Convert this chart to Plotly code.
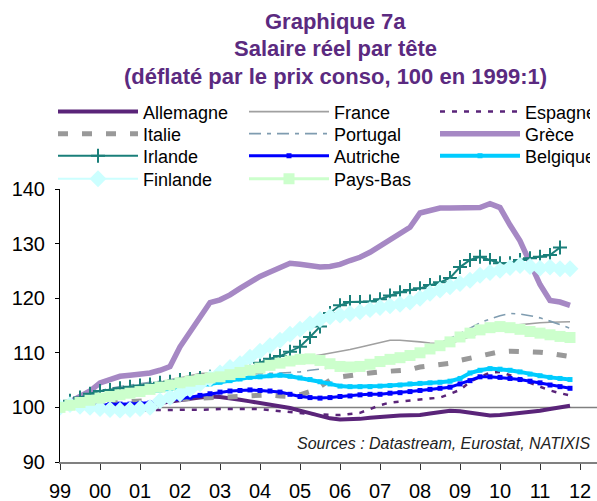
import plotly.graph_objects as go

# quarterly periods 1999Q1 .. 2011Q4
periods = [f"{y}Q{q}" for y in range(1999, 2012) for q in range(1, 5)]

allemagne = [100, 100.1, 100.1, 100.2, 100.2, 100.2, 100.2, 100.3, 100.4, 100.5, 100.8, 101.1,
             101.4, 101.6, 101.8, 102, 101.9, 101.7, 101.4, 101.1, 100.8, 100.5, 100.2, 99.9,
             99.4, 98.9, 98.4, 98, 97.8, 97.8, 97.9, 98.1, 98.3, 98.4, 98.5, 98.5,
             98.6, 98.9, 99.2, 99.4, 99.3, 99, 98.7, 98.5, 98.6, 98.8, 98.9, 99.1,
             99.4, 99.7, 100, 100.3]
france = [100, 100.6, 101.2, 101.8, 102.2, 102.6, 103, 103.4, 103.8, 104.2, 104.6, 105,
          105.4, 105.8, 106.2, 106.3, 106.3, 106.5, 106.8, 107.1, 107.4, 107.8, 108.2, 108.6,
          109, 109.3, 109.6, 109.9, 110.2, 110.6, 111, 111.4, 111.9, 112.3, 112.3, 112.2,
          112, 111.8, 111.7, 111.7, 112.3, 113, 113.7, 114.3, 114.8, 115, 115.2, 115.4,
          115.5, 115.6, 115.7, 115.7]
espagne = [100, 100.2, 100.2, 100.1, 100, 99.8, 99.6, 99.5, 99.5, 99.5, 99.5, 99.5,
           99.5, 99.6, 99.6, 99.6, 99.7, 99.7, 99.7, 99.7, 99.7, 99.5, 99.3, 99.1,
           98.9, 98.8, 98.7, 98.6, 98.6, 98.8, 99, 99.7, 100.4, 100.9, 101.1, 101.3,
           101.4, 101.6, 101.8, 102.5, 103.2, 104.7, 105.6, 106.4, 106.5, 105.9, 105.3, 104.5,
           103.8, 103.1, 102.6, 102.2]
italie = [100, 100.3, 100.5, 100.7, 100.8, 100.9, 101, 101.1, 101.2, 101.3, 101.4, 101.5,
          101.6, 101.6, 101.7, 101.8, 101.9, 101.9, 102, 102.2, 102.3, 102.3, 102.1, 102,
          102.3, 102.9, 103.8, 105, 105.6, 105.9, 106.1, 106.3, 106.5, 106.6, 106.6, 106.9,
          107.4, 107.6, 107.8, 108.1, 108.6, 109, 109.5, 110, 110.2, 110.3, 110.3, 110.2,
          110.1, 109.9, 109.6, 109.3]
portugal = [100, 101, 102, 102.6, 103.1, 103.5, 103.8, 104.1, 104.4, 104.6, 104.8, 105,
            105.3, 105.6, 105.8, 105.9, 106, 106, 106.1, 106.1, 106.2, 106.2, 106.3, 106.4,
            106.5, 106.8, 107, 107.2, 107.4, 107.6, 107.8, 108.1, 108.4, 108.8, 109.3, 109.8,
            110.4, 111.1, 111.8, 112.6, 113.5, 114.5, 115.5, 116.2, 116.8, 117.2, 117.1, 116.8,
            116.4, 115.8, 115.2, 114.5]
grece = [100, 101, 102, 103, 104.5, 105.2, 105.7, 105.9, 106, 106.3, 106.8, 107.5,
         111.1, 113.9, 116.6, 119.2, 119.7, 120.6, 121.8, 123, 124, 124.8, 125.5, 126.4,
         126.2, 125.9, 125.7, 125.8, 126.2, 126.9, 127.5, 128.4, 129.5, 130.6, 131.8, 133,
         135.6, 136, 136.5, 136.5, 136.5, 136.5, 136.6, 137.3, 136.6, 133.4, 130.5, 126.5,
         122.5, 119.6, 119.3, 118.7]
irlande = [100, 101.2, 101.8, 102.5, 103, 103.2, 103.5, 103.8, 104, 104.2, 104.5, 104.7,
           105, 105.2, 105.4, 105.6, 105.7, 106, 106.5, 107.2, 108.2, 108.9, 109.4, 110.2,
           111.1, 112.9, 114.8, 117.3, 118.7, 119.3, 119.3, 119.4, 119.8, 120.5, 121.1, 121.5,
           121.8, 122.4, 122.9, 123.7, 125.7, 127, 127.6, 127, 126.4, 126.4, 127, 127.3,
           127.6, 127.9, 129.3, None]
autriche = [100, 100.2, 100.3, 100.4, 100.5, 100.5, 100.6, 100.6, 100.7, 100.8, 101, 101.3,
            101.6, 101.9, 102.2, 102.5, 102.8, 103, 103.1, 103.2, 103.1, 103, 102.8, 102.4,
            102, 101.8, 101.7, 101.8, 102, 102.1, 102.3, 102.4, 102.4, 102.6, 102.7, 102.9,
            103.1, 103.3, 103.5, 103.7, 104.3, 104.9, 105.6, 105.6, 105.5, 105.3, 105.1, 104.8,
            104.5, 104.1, 103.8, 103.5]
belgique = [100, 100.4, 100.8, 101.1, 101.5, 101.8, 102.1, 102.4, 102.7, 103, 103.2, 103.4,
            103.6, 103.8, 104, 104.3, 104.6, 104.9, 105.2, 105.5, 105.6, 105.8, 105.9, 105.7,
            105.4, 105.1, 104.7, 104.3, 103.9, 103.8, 103.8, 103.8, 103.9, 104, 104.1, 104.3,
            104.4, 104.5, 104.6, 104.8, 105.3, 106.3, 106.8, 107.1, 107, 106.8, 106.5, 106.1,
            105.8, 105.5, 105.3, 105.1]
finlande = [100, 100.5, 100.2, 100, 99.8, 99.6, 99.5, 99.6, 99.8, 100, 101.2, 101.8,
            102.5, 103.3, 104.3, 105.3, 106.3, 107.3, 108, 109.2, 110.3, 111.3, 112.3, 113.4,
            114.3, 115.3, 116.1, 116.6, 116.9, 117.2, 117.5, 117.9, 118.3, 118.6, 118.9, 119.3,
            120, 120.9, 121.5, 122.1, 122.7, 123.3, 124.2, 124.7, 125.1, 125.6, 126, 125.8,
            125.5, 125.7, 125.4, 125.4]
pays_bas = [100, 100.4, 100.9, 101.3, 101.7, 102, 102.3, 102.6, 102.9, 103.3, 103.7, 104.1,
            104.5, 104.8, 105.1, 105.4, 105.6, 106, 106.4, 106.8, 107.2, 107.7, 108.1, 108.5,
            108.8, 108.9, 108.6, 108, 107.5, 107.4, 107.5, 107.9, 108.4, 108.8, 109.1, 109.5,
            110, 110.7, 111.3, 112, 112.9, 113.6, 114.2, 114.6, 114.8, 114.6, 114.3, 113.9,
            113.6, 113.3, 113, 112.8]

year_ticks = list(range(1999, 2013))
year_labels = ["99", "00", "01", "02", "03", "04", "05", "06", "07", "08", "09", "10", "11", "12"]

x = [int(p[:4]) + (int(p[-1]) - 1) / 4 for p in periods]

FONT = "Arial, Liberation Sans, sans-serif"
PURPLE = "#5a2479"

# (name, values, line style, marker style, legend row, legend column)
series = [
    ("Allemagne", allemagne, dict(color=PURPLE, width=4), None, "legend", 0),
    ("France", france, dict(color="#a0a0a0", width=1.6), None, "legend", 1),
    ("Espagne", espagne, dict(color=PURPLE, width=2.5, dash="5px,7px"), None, "legend", 2),
    ("Italie", italie, dict(color="#999999", width=5, dash="10px,14px"), None, "legend2", 0),
    ("Portugal", portugal, dict(color="#7f9cb0", width=1.6, dash="12px,6px,4px,6px"), None, "legend2", 1),
    ("Grèce", grece, dict(color="#a688c4", width=5.5), None, "legend2", 2),
    ("Irlande", irlande, dict(color="#1a7f7a", width=2),
     dict(symbol="cross-thin", size=10, line=dict(color="#1a7f7a", width=2)), "legend3", 0),
    ("Autriche", autriche, dict(color="#0000ff", width=3),
     dict(symbol="square", size=5, color="#0000ff"), "legend3", 1),
    ("Belgique", belgique, dict(color="#00ccff", width=4),
     dict(symbol="square", size=5, color="#00ccff"), "legend3", 2),
    ("Finlande", finlande, dict(color="#ccffff", width=2),
     dict(symbol="diamond", size=13, color="#ccffff"), "legend4", 0),
    ("Pays-Bas", pays_bas, dict(color="#ccffcc", width=3),
     dict(symbol="square", size=11, color="#ccffcc"), "legend4", 1),
]

fig = go.Figure()
for name, vals, line, marker, leg, col in series:
    fig.add_trace(go.Scatter(
        x=x, y=vals, name=name, mode="lines+markers" if marker else "lines",
        line=line, marker=marker, legend=leg, connectgaps=False,
        legendwidth=96 if col < 2 else 60,
    ))

W, H = 597, 501
plot_top, plot_bot = 189, 461.7
ph = plot_bot - plot_top


def py(p):  # paper y from pixel
    return (plot_bot - p) / ph


def px_(p):  # paper x from pixel
    return (p - 60) / 537


leg_common = dict(orientation="h", xanchor="left", yanchor="middle",
                  font=dict(family=FONT, size=18, color="#000"),
                  bgcolor="rgba(0,0,0,0)", itemwidth=80,
                  itemclick=False, traceorder="normal")

TITLE_FONT = dict(family=FONT, size=22, color="#5b2a80")

fig.update_layout(
    width=W, height=H,
    margin=dict(l=60, r=0, t=plot_top, b=H - plot_bot, autoexpand=False),
    paper_bgcolor="white", plot_bgcolor="white",
    font=dict(family=FONT, color="#000"),
    showlegend=True,
    legend=dict(**leg_common, x=px_(53), y=py(112)),
    legend2=dict(**leg_common, x=px_(53), y=py(134)),
    legend3=dict(**leg_common, x=px_(53), y=py(156)),
    legend4=dict(**leg_common, x=px_(53), y=py(179)),
    xaxis=dict(range=[1999, 1999 + 537 / 40], tickvals=year_ticks, ticktext=year_labels,
               automargin=False,
               showgrid=False, zeroline=False, showline=True, linecolor="#808080", linewidth=2,
               ticks="outside", ticklen=6, tickcolor="#333", tickwidth=1,
               tickfont=dict(family=FONT, size=20, color="#000"), ticklabelstandoff=4),
    yaxis=dict(range=[90, 140], tickvals=[90, 100, 110, 120, 130, 140], automargin=False,
               showgrid=False, zeroline=False, showline=True, linecolor="#000", linewidth=1,
               ticks="outside", ticklen=4, tickcolor="#000",
               tickfont=dict(family=FONT, size=20, color="#000"), ticklabelstandoff=6),
    shapes=[dict(type="line", xref="paper", x0=0, x1=1, yref="y", y0=100, y1=100,
                 line=dict(color="#808080", width=1.5), layer="below")],
    annotations=[
        dict(text="<b>Graphique 7a</b>", xref="paper", yref="paper", x=px_(335), y=py(22),
             yanchor="middle", showarrow=False, font=TITLE_FONT),
        dict(text="<b>Salaire réel par tête</b>", xref="paper", yref="paper", x=px_(335), y=py(49),
             yanchor="middle", showarrow=False, font=TITLE_FONT),
        dict(text="<b>(déflaté par le prix conso, 100 en 1999:1)</b>", xref="paper", yref="paper",
             x=px_(335), y=py(77), yanchor="middle", showarrow=False, font=TITLE_FONT),
        dict(text="<i>Sources : Datastream, Eurostat, NATIXIS</i>", xref="paper", yref="paper",
             x=px_(592), y=py(443), xanchor="right", yanchor="middle", showarrow=False,
             font=dict(family=FONT, size=16, color="#222")),
    ],
)

fig.write_html("out.html", config={"displayModeBar": False},
               post_script="document.body.style.margin='0';")
